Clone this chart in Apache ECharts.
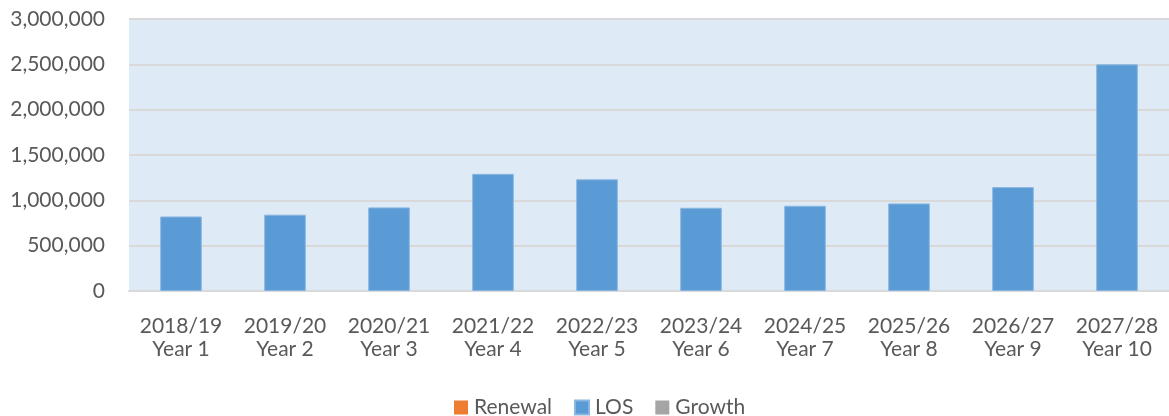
<!DOCTYPE html>
<html>
<head>
<meta charset="utf-8">
<script src="https://cdn.jsdelivr.net/npm/echarts@6/dist/echarts.min.js"></script>
<style>
  html, body { margin: 0; padding: 0; background: #ffffff; }
  #chart { width: 1169px; height: 416px; }
</style>
</head>
<body>
<div id="chart"></div>
<script>
// Financial years and plan-year labels shown along the x axis
const years = ['2018/19', '2019/20', '2020/21', '2021/22', '2022/23', '2023/24', '2024/25', '2025/26', '2026/27', '2027/28'];
const planYears = ['Year 1', 'Year 2', 'Year 3', 'Year 4', 'Year 5', 'Year 6', 'Year 7', 'Year 8', 'Year 9', 'Year 10'];

// Spend by driver per year
const renewal = [0, 0, 0, 0, 0, 0, 0, 0, 0, 0];
const los = [822000, 842000, 922000, 1292000, 1232000, 918000, 940000, 966000, 1146000, 2500000];
const growth = [0, 0, 0, 0, 0, 0, 0, 0, 0, 0];

// Value axis range
const yMin = 0;
const yMax = 3000000;
const yStep = 500000;

const categories = years.map((y, i) => y + '\n' + planYears[i]);

const FONT = 'Lato, "Open Sans", sans-serif';
const TEXT = '#595959';
const FS = 21;

const chart = echarts.init(document.getElementById('chart'), null, { renderer: 'canvas' });

chart.setOption({
  animation: false,
  backgroundColor: '#ffffff',
  textStyle: { fontFamily: FONT },
  grid: {
    left: 129, right: -4, top: 19, bottom: 125,
    show: true, backgroundColor: '#DEEAF6', borderWidth: 0
  },
  legend: {
    top: 392, left: 449,
    itemWidth: 14, itemHeight: 14, itemGap: 22,
    icon: 'rect',
    textStyle: { color: TEXT, fontSize: FS, fontFamily: FONT, padding: [0, 0, 0, 1] },
    data: ['Renewal', 'LOS', 'Growth']
  },
  xAxis: {
    type: 'category',
    data: categories,
    axisLine: { lineStyle: { color: '#D9D9D9', width: 2 } },
    axisTick: { show: false },
    axisLabel: { color: TEXT, fontSize: FS, lineHeight: 23, margin: 24, fontFamily: FONT, interval: 0 }
  },
  yAxis: {
    type: 'value',
    min: yMin, max: yMax, interval: yStep,
    axisLine: { show: false },
    axisTick: { show: false },
    splitLine: { lineStyle: { color: '#D9D9D9', width: 2 } },
    axisLabel: {
      color: TEXT, fontSize: FS, margin: 24, fontFamily: FONT,
      formatter: v => v.toLocaleString('en-US')
    }
  },
  series: [
    {
      name: 'Renewal', type: 'bar', stack: 'total', data: renewal,
      barWidth: '40%', itemStyle: { color: '#ED7D31' }
    },
    {
      name: 'LOS', type: 'bar', stack: 'total', data: los,
      barWidth: '40%',
      itemStyle: { color: '#5B9BD5', borderColor: '#89B6E0', borderWidth: 1 }
    },
    {
      name: 'Growth', type: 'bar', stack: 'total', data: growth,
      barWidth: '40%', itemStyle: { color: '#A5A5A5' }
    }
  ]
});
</script>
</body>
</html>
